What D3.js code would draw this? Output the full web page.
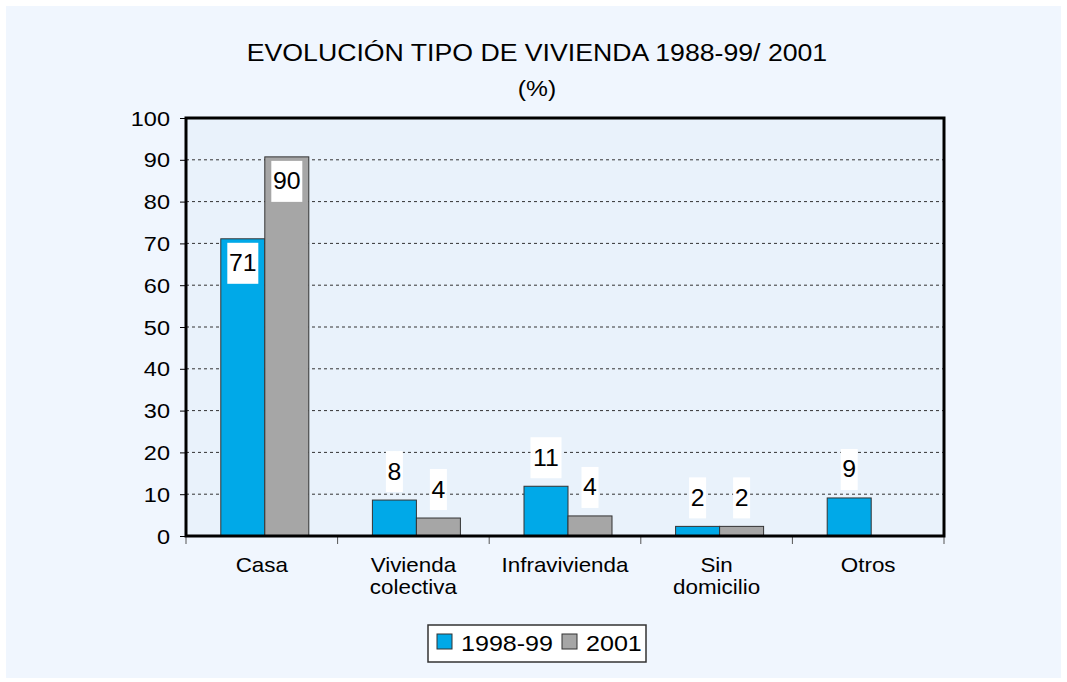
<!DOCTYPE html>
<html>
<head>
<meta charset="utf-8">
<script src="https://cdn.jsdelivr.net/npm/d3@7"></script>
<style>
  body { margin: 0; background: #ffffff; }
  text { font-family: "Liberation Sans", Arial, sans-serif; fill: #000; }
</style>
</head>
<body>
<script>
const categories = [["Casa"], ["Vivienda", "colectiva"], ["Infravivienda"], ["Sin", "domicilio"], ["Otros"]];
const seriesNames = ["1998-99", "2001"];
const values1998 = [71.1, 8.6, 11.9, 2.3, 9.1];
const values2001 = [90.7, 4.3, 4.8, 2.3, null];
const labels1998 = ["71", "8", "11", "2", "9"];
const labels2001 = ["90", "4", "4", "2", ""];
const yTicks = [0, 10, 20, 30, 40, 50, 60, 70, 80, 90, 100];
const colors = ["#00a9e8", "#a6a6a6"];

const width = 1067, height = 682;
const margin = {top: 118, right: 123, bottom: 146, left: 186};

const svg = d3.select("body").append("svg")
  .attr("width", width)
  .attr("height", height);

// the original font is a bit wider than Liberation Sans, so stretch text horizontally
function addText(parent, x, y, str, size, anchor, sx) {
  const g = parent.append("g")
    .attr("transform", `translate(${x},${y}) scale(${sx},1)`);
  return g.append("text")
    .attr("text-anchor", anchor)
    .attr("font-size", size)
    .text(str);
}

// background panel
svg.append("rect")
  .attr("x", 6).attr("y", 6)
  .attr("width", width - 12).attr("height", height - 10)
  .attr("fill", "#f0f6fe");

const x = d3.scaleBand()
  .domain(d3.range(categories.length))
  .range([margin.left, width - margin.right]);

const y = d3.scaleLinear()
  .domain([0, 100])
  .range([height - margin.bottom, margin.top]);

const barW = 44;
const shift = 3;

// plot area
svg.append("rect")
  .attr("x", margin.left).attr("y", margin.top)
  .attr("width", width - margin.left - margin.right)
  .attr("height", height - margin.top - margin.bottom)
  .attr("fill", "#e9f2fb");

// gridlines
svg.append("g")
  .selectAll("line")
  .data(yTicks.filter(t => t > 0 && t < 100))
  .join("line")
  .attr("x1", margin.left).attr("x2", width - margin.right)
  .attr("y1", d => y(d)).attr("y2", d => y(d))
  .attr("stroke", "#333")
  .attr("stroke-width", 1)
  .attr("stroke-dasharray", "3,3");

// y axis
const yAxis = d3.axisLeft(y).tickValues(yTicks).tickSize(6).tickFormat("");
const gy = svg.append("g")
  .attr("transform", `translate(${margin.left},0)`)
  .call(yAxis);
gy.select(".domain").remove();
gy.selectAll(".tick line").attr("stroke", "#000").attr("stroke-width", 1);
yTicks.forEach(t => addText(svg, margin.left - 16, y(t) + 7.5, String(t), 21, "end", 1.12));

// x axis category boundary ticks
const bounds = d3.range(categories.length + 1).map(i =>
  i < categories.length ? x(i) : x(categories.length - 1) + x.bandwidth());
svg.append("g")
  .selectAll("line")
  .data(bounds)
  .join("line")
  .attr("x1", d => d).attr("x2", d => d)
  .attr("y1", y(0)).attr("y2", y(0) + 8)
  .attr("stroke", "#555")
  .attr("stroke-width", 1);

// bars
const series = [values1998, values2001];
series.forEach((vals, s) => {
  svg.append("g")
    .selectAll("rect")
    .data(vals.map((v, i) => ({v, i})).filter(d => d.v != null))
    .join("rect")
    .attr("x", d => x(d.i) + x.bandwidth() / 2 - barW + s * barW + shift)
    .attr("y", d => y(d.v))
    .attr("width", barW)
    .attr("height", d => y(0) - y(d.v))
    .attr("fill", colors[s])
    .attr("stroke", "#333")
    .attr("stroke-width", 1);
});

// frame
svg.append("rect")
  .attr("x", margin.left).attr("y", margin.top)
  .attr("width", width - margin.left - margin.right)
  .attr("height", height - margin.top - margin.bottom)
  .attr("fill", "none")
  .attr("stroke", "#000")
  .attr("stroke-width", 3);

// data labels with white boxes
const labelSets = [labels1998, labels2001];
labelSets.forEach((labs, s) => {
  const vals = series[s];
  labs.forEach((lab, i) => {
    if (!lab) return;
    const v = vals[i];
    const cx = x(i) + x.bandwidth() / 2 - barW / 2 + s * barW + shift;
    const boxH = 41;
    const boxW = lab.length * 14 + 3;
    const top = v > 50 ? y(v) + 4 : y(v) - 8 - boxH;
    svg.append("rect")
      .attr("x", cx - boxW / 2).attr("y", top)
      .attr("width", boxW).attr("height", boxH)
      .attr("fill", "#fff");
    addText(svg, cx, top + boxH / 2 + 8, lab, 23, "middle", 1.08);
  });
});

// category labels
categories.forEach((lines, i) => {
  lines.forEach((line, j) => {
    addText(svg, x(i) + x.bandwidth() / 2, 572 + j * 22, line, 20, "middle", 1.12);
  });
});

// title
addText(svg, 537, 61, "EVOLUCIÓN TIPO DE VIVIENDA 1988-99/ 2001", 23, "middle", 1.16);
addText(svg, 537, 96, "(%)", 22, "middle", 1.12);

// legend
const legend = svg.append("g");
legend.append("rect")
  .attr("x", 428).attr("y", 625)
  .attr("width", 218).attr("height", 37)
  .attr("fill", "#fff")
  .attr("stroke", "#333")
  .attr("stroke-width", 1.5);
const legendX = [437, 562];
seriesNames.forEach((name, s) => {
  legend.append("rect")
    .attr("x", legendX[s]).attr("y", 634)
    .attr("width", 15).attr("height", 15)
    .attr("fill", colors[s])
    .attr("stroke", "#333");
  addText(legend, legendX[s] + 24, 651, name, 22, "start", 1.14);
});
</script>
</body>
</html>
